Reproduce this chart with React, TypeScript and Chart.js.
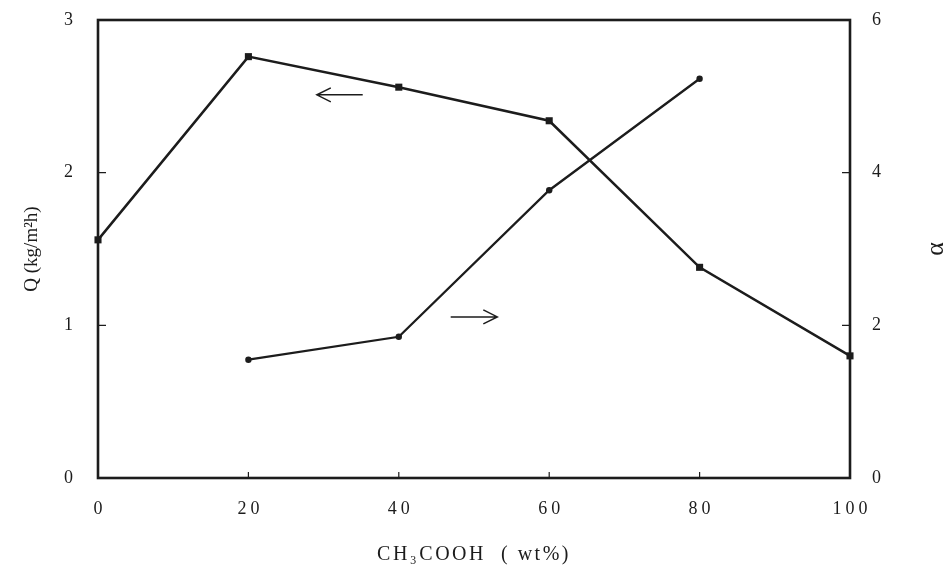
import React, { useEffect, useRef } from "react";
import { Chart, registerables, LinearScale } from "chart.js";

const xValues = [0, 20, 40, 60, 80, 100];
const qValues = [1.56, 2.76, 2.56, 2.34, 1.38, 0.8];
const alphaX = [20, 40, 60, 80];
const alphaValues = [1.55, 1.85, 3.77, 5.23];
const xTitle = "CH₃COOH  ( wt%)";
const qTitle = "Q (kg/m²h)";
const alphaTitle = "α";
// arrows: [x from, x to, Q value]
const arrowLeft = [35.2, 29.1, 2.51];
const arrowRight = [46.9, 53.1, 1.055];

const INK = "#1c1c1c";
const FONT = "'Liberation Serif', 'DejaVu Serif', serif";

class SpacedLinearScale extends LinearScale {
  static id = "spacedLinear";
  static defaults = LinearScale.defaults;
  drawLabels(chartArea: any) {
    const ctx = this.ctx as any;
    ctx.save();
    ctx.letterSpacing = "4px";
    ctx.translate(2, 0);
    super.drawLabels(chartArea);
    ctx.restore();
  }
  drawTitle() {
    const ctx = this.ctx as any;
    ctx.save();
    ctx.letterSpacing = "2.5px";
    super.drawTitle();
    ctx.restore();
  }
}

class CcwTitleLinearScale extends LinearScale {
  static id = "ccwTitleLinear";
  static defaults = LinearScale.defaults;
  drawTitle() {
    const t: any = (this.options as any).title;
    if (!t || !t.display) return;
    const ctx = this.ctx;
    ctx.save();
    ctx.translate(this.right - 14, (this.top + this.bottom) / 2);
    ctx.rotate(-Math.PI / 2);
    ctx.textAlign = "center";
    ctx.textBaseline = "middle";
    ctx.fillStyle = t.color;
    ctx.font = `${t.font.size}px ${t.font.family}`;
    ctx.fillText(t.text, 0, 0);
    ctx.restore();
  }
}

Chart.register(...registerables, SpacedLinearScale, CcwTitleLinearScale);

function drawArrow(ctx: CanvasRenderingContext2D, x1: number, x2: number, y: number) {
  const dir = Math.sign(x2 - x1);
  ctx.beginPath();
  ctx.moveTo(x1, y);
  ctx.lineTo(x2, y);
  ctx.moveTo(x2 - dir * 14, y - 7);
  ctx.lineTo(x2, y);
  ctx.lineTo(x2 - dir * 14, y + 7);
  ctx.stroke();
}

const framePlugin = {
  id: "frame",
  afterDraw(chart: any) {
    const { ctx, chartArea: a, scales } = chart;
    ctx.save();
    ctx.strokeStyle = INK;
    ctx.lineWidth = 1.2;
    const yQ = scales.yQ;
    const yA = scales.yA;
    const x = scales.x;
    ctx.beginPath();
    yQ.ticks.forEach((t: any) => {
      if (t.value <= yQ.min || t.value >= yQ.max) return;
      const p = yQ.getPixelForValue(t.value);
      ctx.moveTo(a.left, p);
      ctx.lineTo(a.left + 8, p);
    });
    yA.ticks.forEach((t: any) => {
      if (t.value <= yA.min || t.value >= yA.max) return;
      const p = yA.getPixelForValue(t.value);
      ctx.moveTo(a.right - 8, p);
      ctx.lineTo(a.right, p);
    });
    x.ticks.forEach((t: any) => {
      if (t.value <= x.min || t.value >= x.max) return;
      const p = x.getPixelForValue(t.value);
      ctx.moveTo(p, a.bottom);
      ctx.lineTo(p, a.bottom - 6);
    });
    ctx.stroke();
    ctx.lineWidth = 2.6;
    ctx.strokeRect(a.left, a.top, a.right - a.left, a.bottom - a.top);
    ctx.lineWidth = 1.5;
    drawArrow(ctx, x.getPixelForValue(arrowLeft[0]), x.getPixelForValue(arrowLeft[1]), yQ.getPixelForValue(arrowLeft[2]));
    drawArrow(ctx, x.getPixelForValue(arrowRight[0]), x.getPixelForValue(arrowRight[1]), yQ.getPixelForValue(arrowRight[2]));
    ctx.restore();
  },
};

const fitY = (w: number) => (s: any) => {
  s.width = w;
  s.paddingTop = 0;
  s.paddingBottom = 0;
};

export default function App() {
  const ref = useRef<HTMLCanvasElement>(null);
  useEffect(() => {
    if (!ref.current) return;
    const chart = new Chart(ref.current, {
      type: "line",
      data: {
        datasets: [
          {
            label: "Q",
            data: xValues.map((v, i) => ({ x: v, y: qValues[i] })),
            yAxisID: "yQ",
            borderColor: INK,
            backgroundColor: INK,
            borderWidth: 2.5,
            pointStyle: "rect",
            pointRadius: 5,
            pointBorderWidth: 0,
            tension: 0,
            clip: false as any,
          },
          {
            label: "α",
            data: alphaX.map((v, i) => ({ x: v, y: alphaValues[i] })),
            yAxisID: "yA",
            borderColor: INK,
            backgroundColor: INK,
            borderWidth: 2.3,
            pointStyle: "circle",
            pointRadius: 3.2,
            pointBorderWidth: 0,
            tension: 0,
            clip: false as any,
          },
        ],
      },
      options: {
        responsive: false,
        animation: false,
        layout: { padding: { top: 20, left: 0, right: 0, bottom: 0 } },
        plugins: { legend: { display: false }, tooltip: { enabled: false } },
        scales: {
          x: {
            type: "spacedLinear" as any,
            min: 0,
            max: 100,
            ticks: { stepSize: 20, padding: 20, color: INK, font: { family: FONT, size: 18 }, maxRotation: 0 },
            grid: { display: false, drawTicks: false },
            border: { display: false },
            title: { display: true, text: xTitle, color: INK, font: { family: FONT, size: 20 }, padding: { top: 0, bottom: 2 } },
            afterFit: (s: any) => {
              s.height = 91;
              s.paddingLeft = 0;
              s.paddingRight = 0;
            },
          },
          yQ: {
            type: "linear",
            position: "left",
            min: 0,
            max: 3,
            ticks: { stepSize: 1, padding: 25, color: INK, font: { family: FONT, size: 18 } },
            grid: { display: false, drawTicks: false },
            border: { display: false },
            title: { display: true, text: qTitle, color: INK, font: { family: FONT, size: 19 }, padding: { top: 21, bottom: 0 } },
            afterFit: fitY(98),
          },
          yA: {
            type: "ccwTitleLinear" as any,
            position: "right",
            min: 0,
            max: 6,
            ticks: { stepSize: 2, padding: 22, color: INK, font: { family: FONT, size: 18 } },
            grid: { display: false, drawTicks: false },
            border: { display: false },
            title: { display: true, text: alphaTitle, color: INK, font: { family: FONT, size: 26 } },
            afterFit: fitY(100),
          },
        },
      },
      plugins: [framePlugin],
    });
    return () => chart.destroy();
  }, []);
  return (
    <div style={{ position: "absolute", left: 0, top: 0, width: 950, height: 569, background: "#fff" }}>
      <canvas ref={ref} width={950} height={569} style={{ display: "block" }} />
    </div>
  );
}
